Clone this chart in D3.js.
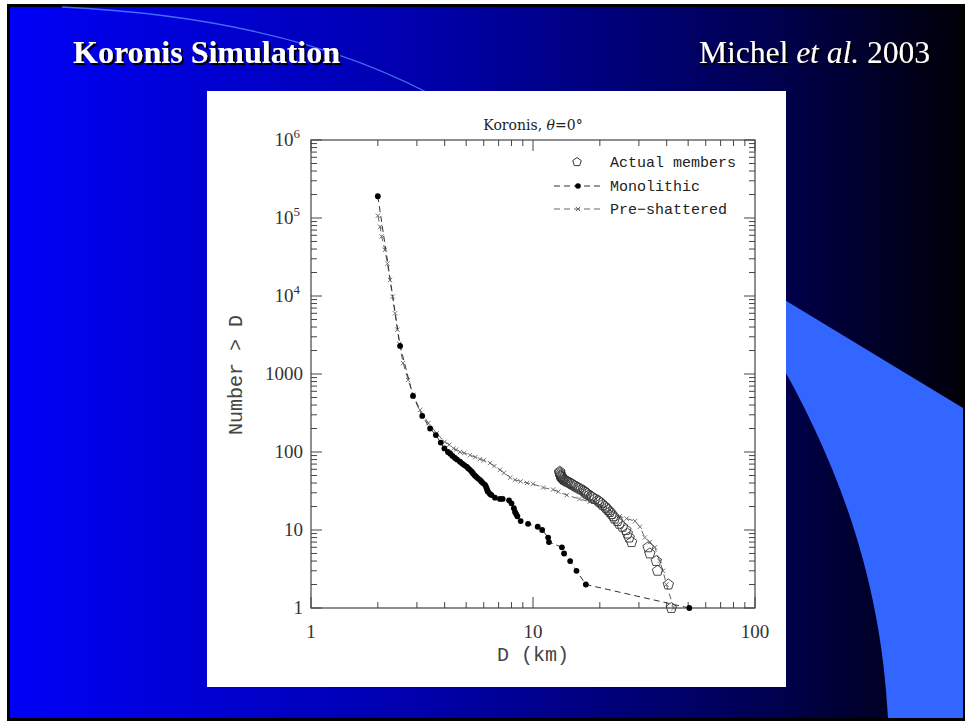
<!DOCTYPE html>
<html><head><meta charset="utf-8">
<script src="https://cdn.jsdelivr.net/npm/d3@7"></script>
<style>html,body{margin:0;padding:0;background:#fff;overflow:hidden}</style>
</head><body>
<script>
// ---- data ----
const xTicks = [1, 10, 100];
const yTicks = [1, 10, 100, 1000, 1e4, 1e5, 1e6];
const yTickLabels = ["1", "10", "100", "1000", "10^4", "10^5", "10^6"];
const seriesNames = ["Actual members", "Monolithic", "Pre\u2212shattered"];

// Monolithic: [D km, N > D]
const monolithic = [[2.0,1.9e5],[2.52,2290],[2.88,523],[3.17,290],[3.44,200],[3.65,165],[3.84,132],[3.99,111],
 [4.14,100],[4.24,95],[4.34,89],[4.45,84],[4.55,80],[4.69,75],[4.8,71],[4.9,68],[5.02,65],[5.1,62],[5.2,59],
 [5.3,56],[5.37,53],[5.47,50],[5.55,48],[5.65,46],[5.76,44],[5.85,42],[5.95,40],[6.08,38],[6.14,36],[6.19,34],
 [6.23,32],[6.27,31],[6.4,29],[6.5,28],[6.74,26],[7.1,25],[7.3,25],[7.8,24],[8.0,22],[8.2,19],[8.3,17],[8.4,16],
 [8.5,15],[8.8,13],[9.5,12],[10.5,11],[11.0,10],[11.7,8],[11.8,7],[13.5,6],[13.8,5],[14.7,4],[15.7,3],[17.3,2],[50.6,1]];

// Pre-shattered
const preShattered = [[2.0,1.07e5],[2.05,7.7e4],[2.08,5.8e4],[2.15,3.9e4],[2.21,2.6e4],[2.27,1.6e4],[2.33,9800],
 [2.39,6000],[2.45,3700],[2.5,2450],[2.6,1380],[2.74,835],[2.89,537],[3.1,347],[3.38,234],[3.68,174],[4.0,135],
 [4.2,124],[4.38,111],[4.5,107],[4.69,100],[4.9,97],[5.2,91],[5.5,86],[5.76,81],[6.0,78],[6.4,72],[6.7,66],
 [7.1,59],[7.4,54],[7.9,47],[8.3,44],[8.8,42],[9.4,40],[10.0,39],[11.1,35],[12.3,33],[13.0,31],[14.2,28],
 [16.2,25],[18.0,23],[20.0,21],[22.2,18],[24.6,15],[26.4,14],[28.8,13],[30.3,11],[31.9,8],[33.6,7],[35.4,6],
 [37.2,4],[38.5,3],[39.9,2],[43.0,1]];

// Actual members
const actual = [[42.0,1],[40.7,2],[36.4,3],[35.9,4],[33.6,5],[33.0,6],[27.8,7],[27.1,8],[26.6,9],[26.2,10],
 [25.3,11],[24.5,12],[24.0,13],[23.3,14],[23.0,15],[22.6,16],[22.2,17],[21.8,18],[21.4,19],[21.1,20],[20.6,21],
 [20.3,22],[19.9,23],[19.6,24],[19.0,25],[18.5,26],[18.3,27],[17.9,28],[17.5,29],[17.3,30],[17.1,31],[16.9,32],
 [16.5,33],[16.2,34],[15.9,35],[15.6,36],[15.4,37],[15.1,38],[14.9,39],[14.7,40],[14.4,41],[14.2,42],[14.0,43],
 [13.8,44],[13.7,45],[13.6,46],[13.5,47],[13.4,48],[13.35,49],[13.3,50],[13.25,52],[13.2,54],[13.2,56]];

// ---- slide ----
const W = 967, H = 723;
const svg = d3.select("body").append("svg").attr("width", W).attr("height", H);
const defs = svg.append("defs");
const grad = defs.append("linearGradient").attr("id","bg").attr("x1","0").attr("x2","1").attr("y1","0").attr("y2","0");
[[0,"#0000f8"],[0.45,"#0000a8"],[0.8,"#000050"],[1,"#000008"]].forEach(s=>grad.append("stop").attr("offset",s[0]).attr("stop-color",s[1]));
const shadow = defs.append("filter").attr("id","sh").attr("x","-10%").attr("y","-10%").attr("width","130%").attr("height","140%");
shadow.append("feDropShadow").attr("dx",2).attr("dy",2).attr("stdDeviation",0.4).attr("flood-color","#000").attr("flood-opacity",1);

svg.append("rect").attr("x",8.5).attr("y",5.5).attr("width",955).attr("height",714)
  .attr("fill","url(#bg)").attr("stroke","#000").attr("stroke-width",3);
// decorative arc
svg.append("path").attr("d","M62,7 Q300,18 450,105").attr("fill","none").attr("stroke","#5a86ff").attr("stroke-width",1.3).attr("opacity",0.8);
// light blue swoosh
svg.append("path").attr("d","M760,285 L963,408 L963,718 L888,718 C882,600 850,480 770,345 Z").attr("fill","#3366ff");

svg.append("text").attr("x",73).attr("y",63).attr("fill","#fff").attr("filter","url(#sh)")
  .style("font-family","'Liberation Serif',serif").style("font-weight","bold").style("font-size","32px").text("Koronis Simulation");
const rt = svg.append("text").attr("x",930).attr("y",63).attr("text-anchor","end").attr("fill","#fff").attr("filter","url(#sh)")
  .style("font-family","'Liberation Serif',serif").style("font-size","31.5px");
rt.append("tspan").text("Michel ");
rt.append("tspan").style("font-style","italic").text("et al.");
rt.append("tspan").text(" 2003");

// ---- chart panel ----
svg.append("rect").attr("x",207).attr("y",91).attr("width",579).attr("height",596).attr("fill","#fff");

const x = d3.scaleLog().domain([1,100]).range([311,755]);
const y = d3.scaleLog().domain([1,1e6]).range([608,140]);
const g = svg.append("g");
const axc = "#444";
g.append("rect").attr("x",x(1)).attr("y",y(1e6)).attr("width",x(100)-x(1)).attr("height",y(1)-y(1e6))
  .attr("fill","none").attr("stroke",axc).attr("stroke-width",1.2);

const xt = x.ticks(), yt = y.ticks();
function isMajor(v){ return Math.abs(Math.log10(v)-Math.round(Math.log10(v)))<1e-9; }
xt.forEach(v=>{ const L=isMajor(v)?11:6; const px=x(v);
  g.append("line").attr("x1",px).attr("x2",px).attr("y1",y(1)).attr("y2",y(1)-L).attr("stroke",axc);
  g.append("line").attr("x1",px).attr("x2",px).attr("y1",y(1e6)).attr("y2",y(1e6)+L).attr("stroke",axc);});
yt.forEach(v=>{ const L=isMajor(v)?11:6; const py=y(v);
  g.append("line").attr("y1",py).attr("y2",py).attr("x1",x(1)).attr("x2",x(1)+L).attr("stroke",axc);
  g.append("line").attr("y1",py).attr("y2",py).attr("x1",x(100)).attr("x2",x(100)-L).attr("stroke",axc);});

const tf = "'Liberation Serif',serif";
xTicks.forEach(v=>g.append("text").attr("x",x(v)).attr("y",638).attr("text-anchor","middle")
  .attr("fill","#333").style("font-family",tf).style("font-size","19px").text(String(v)));
yTicks.forEach((v,i)=>{ const lab=yTickLabels[i];
  const t=g.append("text").attr("x",303).attr("y",y(v)+6).attr("text-anchor","end").attr("fill","#333")
    .style("font-family",tf).style("font-size","19px");
  if(lab.indexOf("^")>=0){ const p=lab.split("^"); t.attr("x",300); t.append("tspan").text(p[0]);
    t.append("tspan").attr("dy",-8).style("font-size","13px").text(p[1]); }
  else t.text(lab); });

const mf = "'Liberation Mono',monospace";
g.append("text").attr("x",533).attr("y",661).attr("text-anchor","middle").attr("fill","#444")
  .style("font-family",mf).style("font-size","20px").text("D (km)");
g.append("text").attr("transform","translate(242,375) rotate(-90)").attr("text-anchor","middle").attr("fill","#444")
  .style("font-family",mf).style("font-size","20px").text("Number > D");
const tt = g.append("text").attr("x",533).attr("y",130).attr("text-anchor","middle").attr("fill","#222")
  .style("font-family","'DejaVu Serif',serif").style("font-size","14px");
tt.append("tspan").text("Koronis, ");
tt.append("tspan").style("font-style","italic").text("\u03b8");
tt.append("tspan").text("=0\u00b0");

const line = d3.line().x(d=>x(d[0])).y(d=>y(d[1]));
g.append("path").datum(preShattered).attr("d",line).attr("fill","none").attr("stroke","#666").attr("stroke-width",1).attr("stroke-dasharray","6,4");
g.append("path").datum(monolithic).attr("d",line).attr("fill","none").attr("stroke","#333").attr("stroke-width",1).attr("stroke-dasharray","6,4");

function cross(s){ return `M${-s},${-s}L${s},${s}M${-s},${s}L${s},${-s}`; }
g.selectAll(".ps").data(preShattered).join("path").attr("transform",d=>`translate(${x(d[0])},${y(d[1])})`)
  .attr("d",cross(2.2)).attr("stroke","#666").attr("stroke-width",0.9).attr("fill","none");
g.selectAll(".mo").data(monolithic).join("circle").attr("cx",d=>x(d[0])).attr("cy",d=>y(d[1])).attr("r",2.9).attr("fill","#000");

function pentagon(r){ const pts=d3.range(5).map(i=>{const a=-Math.PI/2+i*2*Math.PI/5; return [r*Math.cos(a), r*Math.sin(a)];});
  return "M"+pts.map(p=>p.join(",")).join("L")+"Z"; }
g.selectAll(".ac").data(actual).join("path").attr("transform",d=>`translate(${x(d[0])},${y(d[1])})`)
  .attr("d",pentagon(5.5)).attr("fill","none").attr("stroke","#333").attr("stroke-width",0.9);

// legend
const lg = g.append("g").style("font-family",mf).style("font-size","15px").attr("fill","#222");
lg.append("path").attr("transform","translate(577,162)").attr("d",pentagon(4.5)).attr("fill","none").attr("stroke","#333");
lg.append("text").attr("x",610).attr("y",167).text(seriesNames[0]);
lg.append("line").attr("x1",554).attr("x2",602).attr("y1",186).attr("y2",186).attr("stroke","#333").attr("stroke-dasharray","6,4");
lg.append("circle").attr("cx",578).attr("cy",186).attr("r",2.8).attr("fill","#000");
lg.append("text").attr("x",610).attr("y",191).text(seriesNames[1]);
lg.append("line").attr("x1",554).attr("x2",602).attr("y1",209).attr("y2",209).attr("stroke","#666").attr("stroke-dasharray","6,4");
lg.append("path").attr("transform","translate(578,209)").attr("d",cross(2.2)).attr("stroke","#666").attr("fill","none");
lg.append("text").attr("x",610).attr("y",214).text(seriesNames[2]);
</script>
</body></html>
